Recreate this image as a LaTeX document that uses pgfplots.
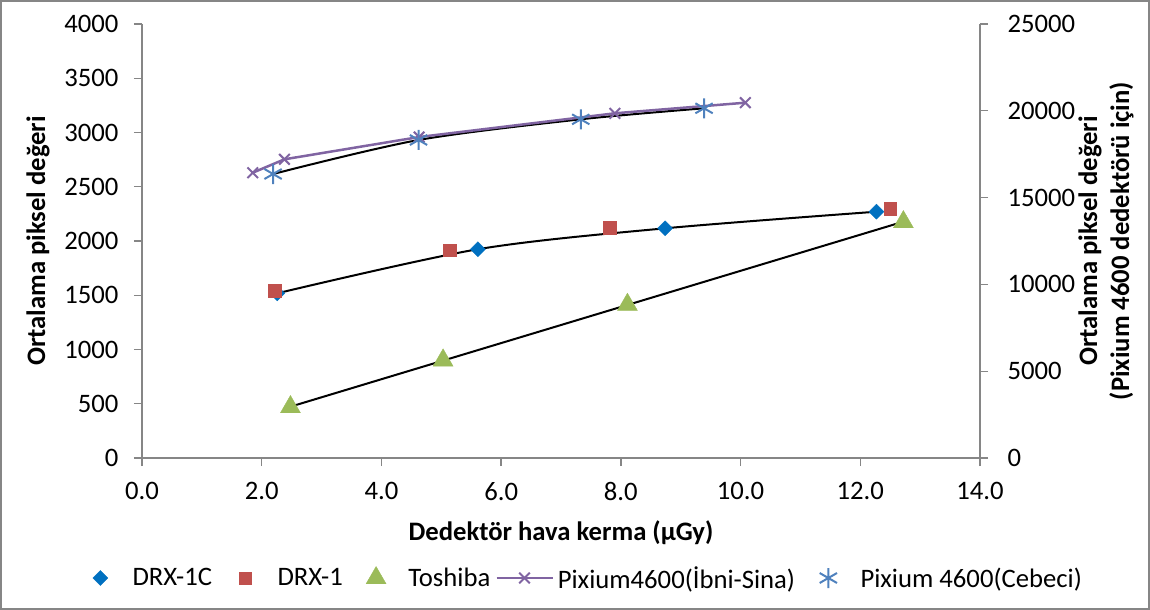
\documentclass[border=0pt]{standalone}
\usepackage{fontspec}
\setmainfont{Carlito}
\usepackage{pgfplots}
\pgfplotsset{compat=1.18}
\definecolor{cDRXC}{HTML}{0070C0}
\definecolor{cDRX}{HTML}{C0504D}
\definecolor{cTosh}{HTML}{9BBB59}
\definecolor{cIbni}{HTML}{8064A2}
\definecolor{cCeb}{HTML}{4F81BD}
\definecolor{axgray}{HTML}{868686}
\pgfplotsset{
  base/.style={
    scale only axis, width=838bp, height=434bp,
    xmin=0, xmax=14, ymin=0,
    axis line style={axgray, line width=1.3bp},
    tick style={axgray, line width=1.3bp},
    tick align=outside, major tick length=8bp,
    ticklabel style={font=\fontsize{26.67bp}{32bp}\selectfont},
    label style={font=\bfseries\fontsize{26.67bp}{32bp}\selectfont},
    /pgf/number format/assume math mode=true,
    /pgf/number format/1000 sep={},
    scaled y ticks=false, scaled x ticks=false,
    clip=false,
  },
  leg/.style={legend image code/.code={\path (0bp,0bp) (56bp,0bp); \draw[mark repeat=2,mark phase=2,##1] plot coordinates {(0bp,0bp) (28bp,0bp) (56bp,0bp)};}},
}
\begin{document}
\begin{tikzpicture}
\path[use as bounding box] (-142bp,-152bp) rectangle (1008bp,458bp);
\draw[axgray, line width=1.5bp] (-141bp,-151bp) rectangle (1007bp,457bp);

\begin{axis}[base, ymax=4000,
  axis x line*=bottom, axis y line*=left,
  xtick={0,2,4,6,8,10,12,14}, ytick={0,500,...,4000},
  xticklabel style={/pgf/number format/.cd, fixed, fixed zerofill, precision=1, /tikz/.cd, yshift=-13bp},
  yticklabel style={xshift=-12bp},
  xlabel={Dedektör hava kerma (µGy)},
  ylabel={Ortalama piksel değeri},
  xlabel style={at={(axis description cs:0.5,-0.1728)}, anchor=center},
  ylabel style={at={(axis description cs:-0.1241,0.5)}, anchor=center},
]
% trend lines
\addplot[black, line width=2bp, smooth, no marks, forget plot] coordinates {(2.26,1518) (5.61,1924) (8.74,2117) (12.27,2270)};
\addplot[black, line width=2bp, no marks, forget plot] coordinates {(2.48,473) (12.72,2178)};
% DRX-1C
\addplot[only marks, mark=square*, mark size=5.3bp, mark options={rotate=45, draw=cDRXC, fill=cDRXC}, forget plot] coordinates {(2.26,1518) (5.61,1924) (8.74,2117) (12.27,2270)};
% DRX-1
\addplot[only marks, mark=square*, mark size=6.3bp, mark options={draw=cDRX, fill=cDRX}, forget plot] coordinates {(2.22,1542) (5.14,1917) (7.81,2123) (12.50,2295)};
% Toshiba
\addplot[only marks, mark=triangle*, mark size=11.5bp, mark options={draw=cTosh, fill=cTosh}, forget plot] coordinates {(2.48,470) (5.03,900) (8.11,1413) (12.72,2175)};
\end{axis}

\begin{axis}[base, ymax=25000,
  axis y line*=right, axis x line=none,
  ytick={0,5000,...,25000},
  yticklabel style={xshift=16bp},
  ylabel={Ortalama piksel değeri\\(Pixium 4600 dedektörü için)},
  ylabel style={at={(axis description cs:1.1504,0.5)}, anchor=center, align=center},
  legend columns=5,
  legend style={draw=none, fill=none, at={(axis description cs:0.5215,-0.2765)}, anchor=center,
    font=\fontsize{26.67bp}{32bp}\selectfont,
    /tikz/every even column/.append style={column sep=1bp},
    nodes={inner xsep=4bp}},
]
\addlegendimage{only marks, mark=square*, mark size=5.3bp, mark options={rotate=45, draw=cDRXC, fill=cDRXC}, leg}
\addlegendentry{DRX-1C}
\addlegendimage{only marks, mark=square*, mark size=6.3bp, mark options={draw=cDRX, fill=cDRX}, leg}
\addlegendentry{DRX-1}
\addlegendimage{only marks, mark=triangle*, mark size=11.5bp, mark options={draw=cTosh, fill=cTosh}, leg}
\addlegendentry{Toshiba}
% trend Cebeci
\addplot[black, line width=2bp, smooth, no marks, forget plot] coordinates {(2.19,16359) (4.62,18318) (7.33,19510) (9.39,20144)};
% Pixium Ibni-Sina
\addplot[cIbni, line width=2.5bp, mark=x, mark size=7.5bp, mark options={line width=2bp}, leg] coordinates {(1.85,16434) (2.38,17206) (4.63,18490) (7.90,19856) (10.08,20466)};
\addlegendentry{Pixium4600(İbni-Sina)}
% Pixium Cebeci
\addplot[only marks, mark=asterisk, mark size=10bp, mark options={cCeb, line width=2bp}, leg] coordinates {(2.19,16359) (4.62,18318) (7.33,19510) (9.39,20144)};
\addlegendentry{Pixium 4600(Cebeci)}
\end{axis}
\end{tikzpicture}
\end{document}
